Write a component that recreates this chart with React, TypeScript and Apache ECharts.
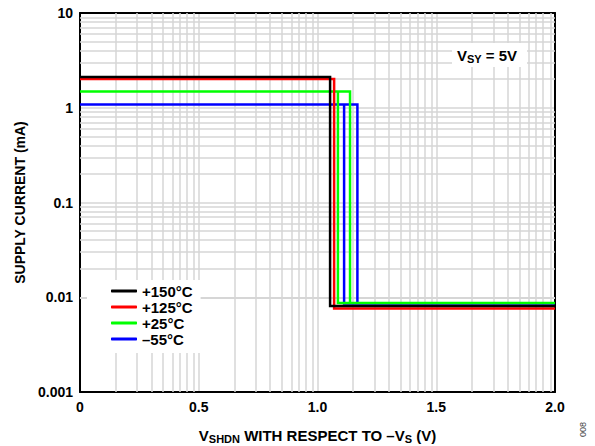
import React, { useEffect, useRef } from "react";
import * as echarts from "echarts";

// ---- data ----
const seriesNames = ["+150°C", "+125°C", "+25°C", "–55°C"];
const seriesColors = ["#000000", "#ff0000", "#00ff00", "#0000ff"];

const xBlack = [0, 1.053, 1.053, 2.0];
const yBlack = [2.11, 2.11, 0.0081, 0.0081];

const xRed = [0, 1.07, 1.07, 2.0];
const yRed = [2.01, 2.01, 0.0076, 0.0076];

const xGreen = [0, 1.137, 1.137, 2.0, 1.086, 1.086];
const yGreen = [1.48, 1.48, 0.0087, 0.0087, 0.0087, 1.48];

const xBlue = [0, 1.168, 1.168, 2.0, 1.112, 1.112];
const yBlue = [1.08, 1.08, 0.0086, 0.0086, 0.0086, 1.08];

const xTickLabels = ["0", "0.5", "1.0", "1.5", "2.0"];
const yTickLabels = ["0.001", "0.01", "0.1", "1", "10"];
const minorFactors = [2, 3, 4, 5, 6, 7, 8, 9];
const yDecades = [-3, -2, -1, 0];
const xSegments = [0, 1, 2, 3];

const zip = (xs: number[], ys: number[]) => xs.map((x, i) => [x, ys[i]]);

export default function App() {
  const ref = useRef<HTMLDivElement>(null);
  useEffect(() => {
    document.body.style.margin = "0";
    const chart = echarts.init(ref.current!, null, { renderer: "svg" });
    const font = "'Liberation Sans', Arial, sans-serif";

    const xMinor: number[] = [];
    xSegments.forEach((k) => minorFactors.forEach((n) => xMinor.push(0.5 * k + 0.5 * Math.log10(n))));
    const yMinor: number[] = [];
    yDecades.forEach((e) => minorFactors.forEach((n) => yMinor.push(n * Math.pow(10, e))));

    const gridStyle = { color: "#d6d6d6", width: 1.5, type: "solid" as const };

    const dataSets = [
      zip(xBlack, yBlack),
      zip(xRed, yRed),
      zip(xGreen, yGreen),
      zip(xBlue, yBlue),
    ];

    const lineSeries = [3, 2, 1, 0].map((i) => ({
      name: seriesNames[i],
      type: "line",
      data: dataSets[i],
      showSymbol: false,
      symbol: "none",
      z: 3,
      color: seriesColors[i],
      lineStyle: { color: seriesColors[i], width: 2.5, join: "miter" },
      animation: false,
    }));

    const option: any = {
      animation: false,
      grid: {
        left: 80,
        right: 40,
        top: 13,
        bottom: 54,
        containLabel: false,
        outerBoundsMode: "none",
      },
      legend: {
        data: seriesNames,
        orient: "vertical",
        left: 87,
        top: 280,
        z: 10,
        backgroundColor: "#ffffff",
        padding: [3, 8, 6, 24],
        itemGap: 0,
        itemWidth: 26,
        itemHeight: 3,
        icon: "roundRect",
        textStyle: {
          fontFamily: font,
          fontWeight: "bold",
          fontSize: 15,
          color: "#000",
          lineHeight: 16,
        },
        selectedMode: false,
      },
      xAxis: [
        {
          type: "value",
          min: 0,
          max: 2,
          interval: 0.5,
          axisLine: { show: true, onZero: false, lineStyle: { color: "#000", width: 2 } },
          axisTick: { show: false },
          splitLine: { show: true, lineStyle: gridStyle },
          axisLabel: {
            margin: 8,
            fontFamily: font,
            fontWeight: "bold",
            fontSize: 14,
            color: "#000",
            formatter: (v: number) => xTickLabels[Math.round(v / 0.5)] ?? "",
          },
          name: "{m|V}{s|SHDN}{m| WITH RESPECT TO –V}{s|S}{m| (V)}",
          nameLocation: "middle",
          nameGap: 34,
          nameTextStyle: {
            rich: {
              m: { fontFamily: font, fontWeight: "bold", fontSize: 15, color: "#000", lineHeight: 18 },
              s: {
                fontFamily: font,
                fontWeight: "bold",
                fontSize: 11,
                color: "#000",
                lineHeight: 10,
                verticalAlign: "bottom",
              },
            },
          },
        },
        {
          type: "value",
          min: 0,
          max: 2,
          position: "top",
          axisLine: { show: true, onZero: false, lineStyle: { color: "#000", width: 2 } },
          axisTick: { show: false },
          axisLabel: { show: false },
          splitLine: { show: false },
        },
      ],
      yAxis: [
        {
          type: "log",
          logBase: 10,
          min: 0.001,
          max: 10,
          axisLine: { show: true, onZero: false, lineStyle: { color: "#000", width: 2 } },
          axisTick: { show: false },
          splitLine: { show: true, lineStyle: gridStyle },
          axisLabel: {
            margin: 7,
            fontFamily: font,
            fontWeight: "bold",
            fontSize: 14,
            color: "#000",
            formatter: (v: number) => {
              const idx = Math.round(Math.log10(v)) + 3;
              return yTickLabels[idx] ?? "";
            },
          },
          name: "SUPPLY CURRENT (mA)",
          nameLocation: "middle",
          nameGap: 53,
          nameTextStyle: { fontFamily: font, fontWeight: "bold", fontSize: 14, color: "#000" },
        },
        {
          type: "log",
          logBase: 10,
          min: 0.001,
          max: 10,
          position: "right",
          axisLine: { show: true, onZero: false, lineStyle: { color: "#000", width: 2 } },
          axisTick: { show: false },
          axisLabel: { show: false },
          splitLine: { show: false },
        },
      ],
      series: [
        {
          name: "grid",
          type: "line",
          data: [],
          z: 1,
          silent: true,
          markLine: {
            silent: true,
            z: 1,
            symbol: ["none", "none"],
            label: { show: false },
            lineStyle: gridStyle,
            emphasis: { disabled: true },
            animation: false,
            data: [
              ...xMinor.map((v) => ({ xAxis: v })),
              ...yMinor.map((v) => ({ yAxis: v })),
            ],
          },
        },
        ...lineSeries,
      ],
      graphic: [
        {
          type: "rect",
          z: 100,
          shape: { x: 452, y: 43, width: 75, height: 24 },
          style: { fill: "#ffffff" },
        },
        {
          type: "text",
          z: 101,
          x: 457,
          y: 55,
          style: {
            text: "{m|V}{s|SY}{m| = 5V}",
            verticalAlign: "middle",
            rich: {
              m: { fontFamily: font, fontWeight: "bold", fontSize: 15, fill: "#000", lineHeight: 18 },
              s: {
                fontFamily: font,
                fontWeight: "bold",
                fontSize: 11,
                fill: "#000",
                lineHeight: 10,
                verticalAlign: "bottom",
              },
            },
          },
        },
        {
          type: "text",
          x: 583,
          y: 437,
          rotation: Math.PI / 2,
          z: 100,
          style: {
            text: "008",
            fontFamily: font,
            fontSize: 9,
            fill: "#444",
            verticalAlign: "middle",
            align: "left",
          },
        },
      ],
    };
    chart.setOption(option);
    return () => chart.dispose();
  }, []);
  return <div ref={ref} style={{ width: 595, height: 446, position: "absolute", left: 0, top: 0 }} />;
}
